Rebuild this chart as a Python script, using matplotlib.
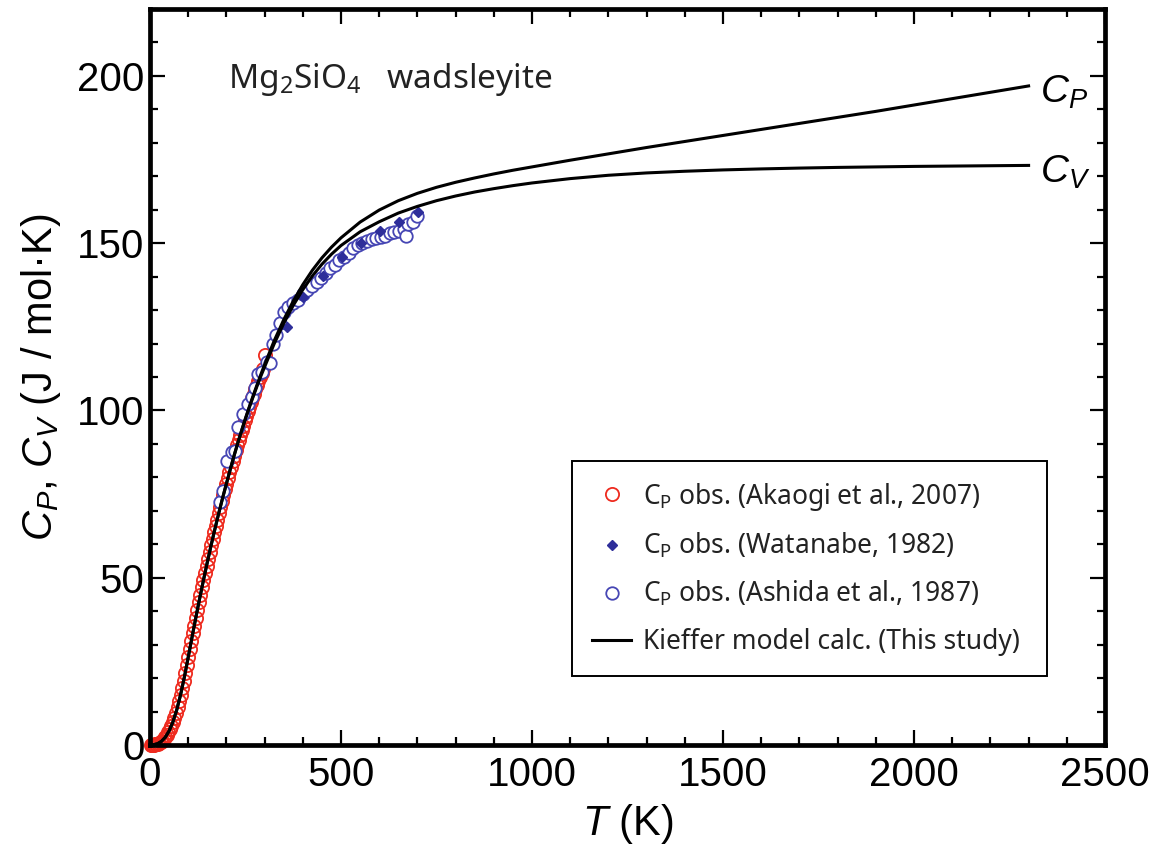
import matplotlib
matplotlib.use("Agg")
import matplotlib.pyplot as plt
from matplotlib.ticker import MultipleLocator

plt.rcParams['font.family'] = ['Liberation Sans', 'DejaVu Sans']
plt.rcParams['mathtext.fontset'] = 'custom'
plt.rcParams['mathtext.rm'] = 'Noto Sans'
plt.rcParams['mathtext.it'] = 'Liberation Sans:italic'

# Cp obs. (Akaogi et al., 2007)
akaogi_t = [2, 5, 8, 11, 14, 17, 20, 24, 28, 32, 36, 40, 44, 48,
            52, 56, 60, 64, 68, 72, 76, 80, 84, 88, 92, 96, 100, 104, 108, 112, 116,
            120, 124, 128, 132, 136, 140, 144, 148, 152, 156, 160, 164, 168, 172, 176,
            180, 184, 188, 192, 196, 200, 204, 208, 212, 216, 220, 224, 228, 232, 236,
            240, 244, 248, 252, 256, 260, 264, 268, 272, 276, 280, 284, 288, 292, 296,
            300]
akaogi_cp = [0.0, 0.0, 0.1, 0.1, 0.2, 0.3, 0.4, 0.6, 0.9, 1.3, 1.7, 2.3, 3.0, 3.8,
             4.7, 5.7, 6.9, 8.2, 9.7, 11.3, 13.1, 15.0, 17.1, 19.2, 21.5, 23.8, 26.2,
             28.6, 31.0, 33.4, 35.7, 38.1, 40.4, 42.7, 44.9, 47.1, 49.3, 51.4, 53.5,
             55.6, 57.7, 59.7, 61.7, 63.6, 65.6, 67.4, 69.3, 71.1, 72.9, 74.7, 76.4,
             78.1, 79.8, 81.5, 83.2, 84.9, 86.5, 88.1, 89.6, 91.1, 92.6, 94.1, 95.5,
             97.0, 98.4, 99.8, 101.1, 102.4, 103.7, 105.0, 106.3, 107.6, 108.9, 110.1,
             111.3, 112.5, 116.5]

# Cp obs. (Watanabe, 1982)
watanabe_t = [358, 401, 454, 503, 552, 602, 652, 702]
watanabe_cp = [125.0, 133.8, 140.3, 145.8, 150.2, 153.7, 156.4, 159.2]

# Cp obs. (Ashida et al., 1987)
ashida_t = [183, 190, 201, 214, 222, 231, 244, 256, 266, 275, 284, 293, 305, 314, 323,
            331, 340, 352, 362, 375, 388, 400, 412, 424, 436, 448, 460, 472, 484, 496,
            508, 520, 532, 544, 556, 568, 580, 592, 604, 616, 628, 640, 652, 664, 670,
            676, 688, 700]
ashida_cp = [72.6, 76.0, 85.0, 87.5, 88.0, 95.0, 99.0, 101.8, 104.0, 106.8, 111.0,
             111.5, 114.5, 114.2, 120.0, 122.5, 126.0, 129.5, 131.0, 132.2, 133.0, 134.8,
             136.0, 137.3, 138.5, 139.6, 141.0, 142.5, 143.5, 145.0, 146.0, 147.0, 148.5,
             149.4, 150.0, 150.8, 151.2, 151.6, 151.9, 152.2, 153.0, 153.2, 153.6, 154.1,
             152.0, 155.6, 156.2, 158.0]

# Kieffer model calc. (This study)
model_t = [0, 10, 20, 30, 40, 50, 60, 70, 80, 90, 100, 110, 120, 130, 140, 150, 160,
           170, 180, 190, 200, 210, 220, 230, 240, 250, 260, 270, 280, 290, 300, 325,
           350, 375, 400, 425, 450, 475, 500, 550, 600, 650, 700, 750, 800, 850, 900,
           950, 1000, 1100, 1200, 1300, 1400, 1500, 1600, 1700, 1800, 1900, 2000, 2100,
           2200, 2300]
model_cp = [0.0, 0.1, 0.4, 1.1, 2.3, 4.2, 6.9, 10.5, 15.0, 20.3, 26.2, 32.2, 38.1, 43.8,
            49.3, 54.6, 59.7, 64.6, 69.3, 73.8, 78.1, 82.4, 86.5, 90.4, 94.1, 97.7,
            101.1, 104.4, 107.6, 110.7, 113.7, 120.8, 127.1, 132.7, 137.6, 141.9, 145.6,
            148.8, 151.6, 156.3, 159.9, 162.7, 164.9, 166.7, 168.2, 169.5, 170.7, 171.8,
            172.8, 174.8, 176.7, 178.6, 180.4, 182.2, 184.0, 185.8, 187.6, 189.4, 191.3,
            193.2, 195.1, 197.0]
model_cv = [0.0, 0.1, 0.4, 1.1, 2.3, 4.2, 6.9, 10.5, 15.0, 20.3, 26.2, 32.2, 38.1, 43.8,
            49.3, 54.6, 59.7, 64.6, 69.3, 73.8, 78.1, 82.3, 86.4, 90.3, 94.0, 97.5,
            100.9, 104.1, 107.2, 110.2, 113.0, 119.9, 126.0, 131.4, 136.1, 140.2, 143.7,
            146.7, 149.3, 153.4, 156.4, 159.0, 161.0, 162.7, 164.1, 165.3, 166.3, 167.2,
            168.0, 169.3, 170.3, 171.0, 171.5, 171.9, 172.2, 172.45, 172.65, 172.8,
            172.95, 173.05, 173.15, 173.25]

fig = plt.figure(figsize=(11.55, 8.63), dpi=100)
ax = fig.add_axes([150 / 1155, 1 - 745 / 863, 955 / 1155, 736 / 863])

ax.plot(akaogi_t, akaogi_cp, 'o', ms=9.5, mfc='none', mec='#ee2a1e', mew=1.3,
        clip_on=False, zorder=2, label='C$_\\mathrm{P}$ obs. (Akaogi et al., 2007)')
ax.plot(watanabe_t, watanabe_cp, 'D', ms=5.5, color='#2e2e9a', zorder=4,
        label='C$_\\mathrm{P}$ obs. (Watanabe, 1982)')
ax.plot(ashida_t, ashida_cp, 'o', ms=9, mfc='white', mec='#4646b4', mew=1.3,
        zorder=3, label='C$_\\mathrm{P}$ obs. (Ashida et al., 1987)')
ax.plot(model_t, model_cp, '-', color='black', lw=2.2, zorder=5,
        solid_joinstyle='round', label='Kieffer model calc. (This study)')
ax.plot(model_t, model_cv, '-', color='black', lw=2.2, zorder=5,
        solid_joinstyle='round')

ax.text(2330, model_cp[-1] - 2, '$C_P$', fontsize=28, va='center', ha='left')
ax.text(2330, model_cv[-1] - 2, '$C_V$', fontsize=28, va='center', ha='left')
ax.text(205, 199, 'Mg$_2$SiO$_4$   wadsleyite', fontsize=24, family='Noto Sans',
        color='#222222', va='center', ha='left')

ax.set_xlim(0, 2500)
ax.set_ylim(0, 220)
ax.xaxis.set_major_locator(MultipleLocator(500))
ax.xaxis.set_minor_locator(MultipleLocator(100))
ax.yaxis.set_major_locator(MultipleLocator(50))
ax.yaxis.set_minor_locator(MultipleLocator(10))
ax.tick_params(which='both', direction='in', top=True, right=True, width=1.6)
ax.tick_params(which='major', length=11, labelsize=29)
ax.tick_params(which='minor', length=6)
ax.tick_params(axis='x', pad=8)
ax.tick_params(axis='y', pad=4)
for s in ax.spines.values():
    s.set_linewidth(3.4)

ax.set_xlabel('$T$ (K)', fontsize=30, labelpad=6)
ax.set_ylabel('$C_P$, $C_V$ (J / mol·K)', fontsize=30, labelpad=10)

leg = ax.legend(loc='lower left', bbox_to_anchor=(0.442, 0.094, 0.497, 0.299),
                mode='expand', prop={'family': 'Noto Sans', 'size': 19},
                frameon=True, fancybox=False, edgecolor='black', framealpha=1,
                labelspacing=0.72, handlelength=1.5, handletextpad=0.45,
                borderpad=0.75, borderaxespad=0)
leg.get_frame().set_linewidth(1.4)
for t in leg.get_texts():
    t.set_color('#222222')

fig.savefig('out.png', dpi=100, facecolor='white')
